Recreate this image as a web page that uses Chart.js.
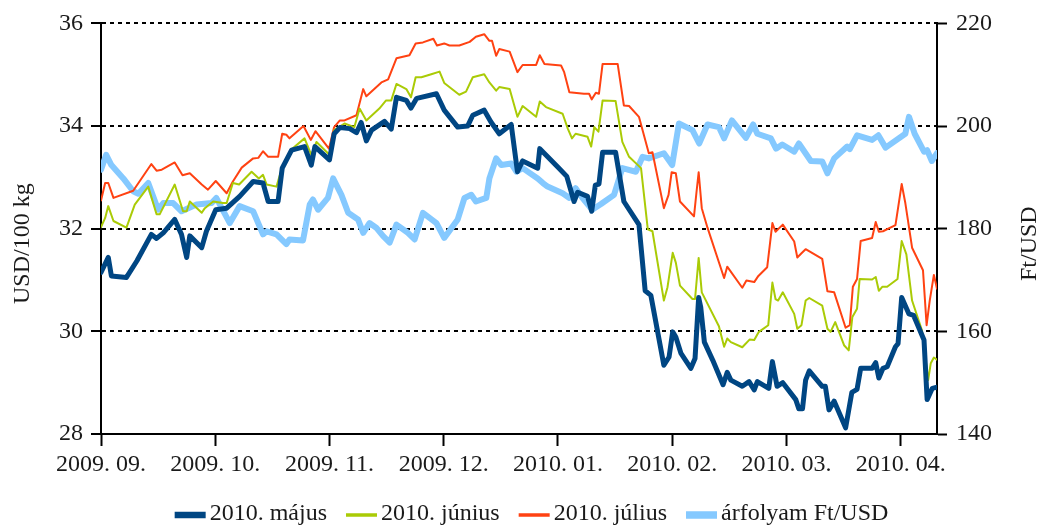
<!DOCTYPE html>
<html>
<head>
<meta charset="utf-8">
<script src="https://cdn.jsdelivr.net/npm/chart.js@4.4.0/dist/chart.umd.min.js"></script>
<style>
  html, body { margin: 0; padding: 0; background: #fff; overflow: hidden; }
  #wrap { width: 1041px; height: 527px; }
</style>
</head>
<body>
<div id="wrap"><canvas id="SugarChart"></canvas></div>
<script>
// month ticks: one every 22 trading days
const monthLabels = ['2009. 09.', '2009. 10.', '2009. 11.', '2009. 12.', '2010. 01.', '2010. 02.', '2010. 03.', '2010. 04.'];
const tickStep = 22;
const lastDay = 161;

// 2010. május (USD/100 kg)
const majusX = [0, 1.4, 2, 4.9, 6.9, 9.7, 10.7, 12, 14.2, 15.5, 16.5, 17.1, 19.4, 20.3, 22.1, 24.2, 26.7, 29.3, 31.2, 32.2,
  34.1, 34.9, 36.7, 39.2, 40.5, 41.2, 44, 44.9, 46, 47.9, 49.2, 50.1, 51.1, 52.1, 54.6, 55.9, 56.9, 58.8, 59.7, 60.8,
  64.6, 66.1, 68.7, 70.6, 71.6, 73.8, 75.1, 76.7, 79, 80.2, 81.2, 84.1, 84.5, 88.2, 89.7, 91.1, 91.8, 93.7, 94.5, 95.2,
  95.9, 96.6, 99.1, 100.7, 103.6, 104.8, 105.9, 108.4, 109.4, 110.1, 110.7, 111.7, 113.6, 114.4, 115.1, 115.5, 116.2, 117.8, 119.8, 120.6,
  121.3, 123.5, 124.8, 125.8, 126.4, 128.6, 129.3, 130.2, 131.3, 133.8, 134.4, 135.1, 135.7, 136.4, 138.9, 139.5, 140.2, 141.2, 143.4, 144.6,
  145.6, 146.3, 148.5, 149.2, 149.8, 150.6, 151.4, 153, 153.5, 154.2, 154.9, 155.6, 156.5, 158.5, 159.1, 160.1, 161];
const majusY = [31.15, 31.44, 31.08, 31.05, 31.37, 31.89, 31.81, 31.92, 32.18, 31.89, 31.44, 31.86, 31.63, 31.95, 32.37, 32.4, 32.63, 32.92, 32.89, 32.53,
  32.53, 33.18, 33.53, 33.6, 33.24, 33.6, 33.34, 33.85, 33.97, 33.95, 33.87, 34.07, 33.71, 33.92, 34.09, 33.94, 34.56, 34.5, 34.35, 34.54,
  34.63, 34.31, 33.98, 34, 34.21, 34.31, 34.08, 33.85, 34.03, 33.11, 33.32, 33.18, 33.56, 33.18, 33.02, 32.53, 32.71, 32.63, 32.34, 32.85,
  32.87, 33.49, 33.49, 32.53, 32.08, 30.79, 30.7, 29.34, 29.5, 29.99, 29.89, 29.57, 29.28, 29.47, 30.66, 30.47, 29.79, 29.44, 28.96, 29.2,
  29.05, 28.93, 29.02, 28.86, 29.02, 28.89, 29.41, 28.93, 29, 28.67, 28.49, 28.49, 29.05, 29.23, 28.93, 28.93, 28.47, 28.64, 28.12, 28.81,
  28.87, 29.28, 29.28, 29.39, 29.09, 29.28, 29.31, 29.7, 29.76, 30.66, 30.5, 30.34, 30.31, 29.83, 28.67, 28.89, 28.91];

// 2010. június (USD/100 kg)
const juniusX = [0, 0.8, 1.4, 2.4, 4.9, 6.5, 9.1, 10.7, 11.3, 14.2, 15.8, 16.5, 17.1, 19.4, 20, 21.6, 23.5, 24.2, 25.4, 26.6,
  29, 30.4, 31.2, 31.9, 33.8, 34.9, 36.7, 39.2, 40.5, 41.5, 44, 44.9, 46.9, 48.8, 49.8, 51.1, 53.6, 54.9, 55.9, 56.9,
  58.8, 59.7, 60.6, 61.7, 63.6, 65.2, 66.1, 69, 70.3, 71.6, 73.8, 74.8, 76.1, 76.7, 78.7, 80.2, 81.2, 83.8, 84.5, 85.7,
  88.9, 89.9, 90.7, 91.4, 93.7, 94.4, 95, 95.8, 96.6, 99.1, 100.4, 101.7, 104, 105.3, 106.2, 108.4, 109.1, 110.1, 110.7, 111.5,
  113.9, 114.4, 115.1, 115.7, 119, 120, 120.6, 121.3, 123.5, 124.9, 125.8, 126.7, 128.5, 129.3, 129.9, 130.4, 131.3, 133.5, 134.1, 134.9,
  135.7, 136.4, 138.9, 139.9, 140.5, 141.4, 143.1, 144, 144.7, 145.6, 146.1, 148.5, 149.2, 149.8, 150.5, 151.4, 153.4, 154.2, 155.1, 156.2,
  158.1, 159.3, 159.8, 160.4, 161];
const juniusY = [32.03, 32.21, 32.44, 32.15, 32.02, 32.47, 32.82, 32.28, 32.28, 32.86, 32.34, 32.34, 32.53, 32.31, 32.4, 32.53, 32.5, 32.5, 32.89, 32.86,
  33.11, 32.98, 33.05, 32.86, 32.82, 33.2, 33.55, 33.76, 33.44, 33.69, 33.44, 33.92, 34.05, 33.98, 34.34, 34.11, 34.34, 34.5, 34.5, 34.82,
  34.72, 34.56, 34.95, 34.95, 35.01, 35.06, 34.84, 34.61, 34.67, 34.95, 35.01, 34.85, 34.69, 34.76, 34.72, 34.18, 34.39, 34.18, 34.48, 34.37,
  34.24, 33.95, 33.76, 33.85, 33.79, 33.6, 33.98, 33.89, 34.5, 34.49, 33.69, 33.4, 33.18, 31.99, 31.95, 30.6, 30.86, 31.53, 31.34, 30.89,
  30.63, 30.63, 31.43, 30.76, 30.1, 29.7, 29.86, 29.79, 29.69, 29.84, 29.83, 29.99, 30.12, 30.95, 30.63, 30.6, 30.76, 30.34, 30.05, 30.12,
  30.6, 30.65, 30.5, 30.05, 29.99, 30.18, 29.73, 29.63, 30.28, 30.44, 31.02, 31.01, 31.06, 30.79, 30.87, 30.87, 31.02, 31.76, 31.5, 30.6,
  30.02, 29.05, 29.38, 29.49, 29.45];

// 2010. július (USD/100 kg)
const juliusX = [0, 0.8, 1.4, 2.4, 6.2, 9.7, 10.7, 11.7, 14.2, 15.7, 17.1, 19.4, 20.6, 22.1, 24.2, 25.4, 27.1, 29.3, 30.3, 31.2,
  32.2, 34.1, 34.9, 35.7, 36.3, 39, 40.4, 41.3, 43.9, 44.9, 46, 46.9, 49.2, 50.5, 51.1, 54, 55.3, 56.9, 59.4, 60.6,
  62, 64, 64.7, 66.1, 67.1, 69, 71, 72.2, 73.8, 74.8, 75.3, 76.1, 76.7, 78.7, 80.2, 81.2, 83.8, 84.5, 85.4, 88.6,
  89.2, 90.2, 93, 94, 94.5, 95.3, 95.9, 96.6, 99.5, 100.7, 101.7, 103.6, 105.5, 106.2, 108.4, 109.3, 109.9, 110.7, 111.5, 114.2,
  114.7, 115.1, 115.7, 116.8, 120, 120.6, 123.5, 124.3, 125.8, 126.6, 128.3, 129.3, 129.9, 131.3, 133.5, 134.1, 134.9, 135.7, 138.9, 139.9,
  141.2, 143.4, 144.2, 144.8, 145.6, 146.3, 148.5, 149.2, 149.8, 150.6, 153, 154.2, 154.9, 156.2, 158.3, 159, 159.6, 160.4, 161];
const juliusY = [32.55, 32.89, 32.89, 32.6, 32.74, 33.26, 33.13, 33.15, 33.29, 33.04, 33.08, 32.86, 32.76, 32.93, 32.69, 32.92, 33.19, 33.37, 33.38, 33.51,
  33.4, 33.4, 33.85, 33.83, 33.76, 34, 33.73, 33.9, 33.56, 33.98, 34.11, 34.11, 34.21, 34.72, 34.58, 34.85, 34.91, 35.32, 35.38, 35.61,
  35.63, 35.7, 35.57, 35.61, 35.57, 35.57, 35.64, 35.74, 35.79, 35.66, 35.66, 35.37, 35.5, 35.45, 35.05, 35.19, 35.19, 35.38, 35.21, 35.18,
  35.05, 34.66, 34.63, 34.63, 34.52, 34.65, 34.63, 35.21, 35.21, 34.4, 34.39, 34.18, 33.47, 33.49, 32.4, 32.66, 33.1, 33.08, 32.53, 32.24,
  32.73, 33.1, 32.4, 32.02, 31.04, 31.26, 30.85, 30.99, 30.96, 31.08, 31.25, 32.11, 31.94, 32.08, 31.75, 31.44, 31.52, 31.6, 31.41, 30.78,
  30.76, 30.07, 30.12, 30.87, 31.02, 31.76, 31.82, 32.13, 31.94, 31.95, 32.07, 32.87, 32.5, 31.63, 31.19, 30.12, 30.6, 31.1, 30.83];

// árfolyam Ft/USD (right axis)
const arfolyamX = [0, 1, 2, 4.3, 6.2, 7.2, 9.1, 11, 12, 13.9, 15.5, 18.4, 21.3, 22.2, 24.8, 26.7, 29.3, 31.2, 31.9, 33.8,
  35.7, 36.3, 38.9, 40.2, 40.8, 41.8, 43.7, 44.7, 46.3, 47.6, 49.5, 50.5, 51.7, 53, 54.3, 55.6, 56.9, 59.1, 60.4, 62,
  64.6, 66.1, 68.7, 70, 71.3, 72.2, 74.2, 74.8, 76.1, 77.1, 79, 80, 81.2, 84.1, 85.1, 86, 88.9, 90.2, 91.4, 92.7,
  94.6, 96.3, 98.8, 100.4, 103, 104.3, 105.5, 108.4, 110, 111.3, 113.9, 115.2, 116.8, 119, 120, 121.5, 124.2, 125.6, 126.4, 129,
  130, 131.2, 133.5, 134.4, 136.7, 138.9, 139.9, 141.2, 143.7, 144.2, 145.6, 148.5, 149.7, 151.1, 154.9, 155.6, 156.7, 158.5, 159.1, 160,
  161];
const arfolyamY = [191.5, 194.4, 192.4, 189.8, 187.3, 186.8, 188.9, 183.7, 185, 185, 183.4, 184.7, 185, 186, 181.1, 184.4, 183.4, 178.9, 179.5, 178.9,
  177, 177.9, 177.7, 184.7, 185.7, 183.7, 186, 189.8, 186.6, 183.1, 181.8, 179.2, 181.1, 180.2, 178.6, 177.3, 180.8, 179.2, 177.9, 183.1,
  181.1, 178.2, 181.8, 186, 186.6, 185.3, 186, 189.8, 193.7, 192.4, 192.7, 191.1, 191.8, 189.8, 188.9, 188.2, 186.9, 186, 187.9, 186,
  183.7, 184.8, 186.6, 191.8, 191.1, 194, 193.7, 194.7, 192.4, 200.5, 199.2, 196.6, 200.3, 199.8, 197.6, 201.1, 197.7, 200.3, 198.5, 197.6,
  195.6, 196.4, 195, 196.6, 193.2, 193.1, 190.8, 193.7, 196, 195.5, 198.2, 197.3, 198.2, 195.8, 198.5, 201.8, 198.5, 195, 195.3, 193.2,
  194.7];

const toPoints = (xs, ys) => xs.map((x, i) => ({ x, y: ys[i] }));

const fontFamily = '"Liberation Serif", "Times New Roman", serif';
const textColor = '#1a1a1a';
const tickFont = { family: fontFamily, size: 24 };

// both axis titles read bottom-to-top, so draw them by hand
const sideTitles = {
  id: 'sideTitles',
  afterDraw(chart) {
    const { ctx, chartArea } = chart;
    const midY = (chartArea.top + chartArea.bottom) / 2 + 15;
    ctx.save();
    ctx.font = `24px ${fontFamily}`;
    ctx.fillStyle = textColor;
    ctx.textAlign = 'center';
    ctx.textBaseline = 'middle';
    [[chartArea.left - 78, 'USD/100 kg'], [chartArea.right + 93, 'Ft/USD']].forEach(([x, text]) => {
      ctx.save();
      ctx.translate(x, midY);
      ctx.rotate(-Math.PI / 2);
      ctx.fillText(text, 0, 0);
      ctx.restore();
    });
    ctx.restore();
  },
};

// Excel-like legend: short swatch hugging its label
const bottomLegend = {
  id: 'bottomLegend',
  afterDraw(chart) {
    const { ctx } = chart;
    const swatchW = 31, swatchGap = 4, itemGap = 19, y = 514;
    ctx.save();
    ctx.font = `24px ${fontFamily}`;
    const items = chart.data.datasets.map((ds) => ({ ds, w: ctx.measureText(ds.label).width }));
    const total = items.reduce((s, it) => s + swatchW + swatchGap + it.w, 0) + itemGap * (items.length - 1);
    let x = chart.width / 2 + 11 - total / 2;
    ctx.textBaseline = 'middle';
    ctx.fillStyle = textColor;
    items.forEach(({ ds, w }) => {
      ctx.strokeStyle = ds.borderColor;
      ctx.lineWidth = ds.borderWidth + 1.5;
      ctx.beginPath();
      ctx.moveTo(x, y + 1);
      ctx.lineTo(x + swatchW, y + 1);
      ctx.stroke();
      x += swatchW + swatchGap;
      ctx.fillText(ds.label, x, y);
      x += w + itemGap;
    });
    ctx.restore();
  },
};

const tickMarks = { drawOnChartArea: false, tickLength: 10, tickWidth: 2, tickColor: '#000', tickBorderDash: [] };

const canvas = document.getElementById('SugarChart');
new Chart(canvas, {
  type: 'line',
  data: {
    datasets: [
      { label: '2010. május', data: toPoints(majusX, majusY), borderColor: '#004683', borderWidth: 5, yAxisID: 'y' },
      { label: '2010. június', data: toPoints(juniusX, juniusY), borderColor: '#AACB06', borderWidth: 2, yAxisID: 'y' },
      { label: '2010. július', data: toPoints(juliusX, juliusY), borderColor: '#FF4212', borderWidth: 2, yAxisID: 'y' },
      { label: 'árfolyam Ft/USD', data: toPoints(arfolyamX, arfolyamY), borderColor: '#85C9FF', borderWidth: 6, yAxisID: 'y2' },
    ],
  },
  options: {
    responsive: true,
    maintainAspectRatio: false,
    animation: false,
    elements: {
      point: { radius: 0 },
      line: { tension: 0, borderJoinStyle: 'round', borderCapStyle: 'round' },
    },
    layout: { padding: { top: 20, left: 0, right: 0, bottom: 41 } },
    plugins: {
      legend: { display: false },
      tooltip: { enabled: false },
    },
    scales: {
      x: {
        type: 'linear',
        min: 0,
        max: lastDay,
        afterBuildTicks: (scale) => {
          scale.ticks = monthLabels.map((_, i) => ({ value: i * tickStep }));
        },
        afterFit: (scale) => { scale.height = 52; },
        ticks: {
          callback: (value) => monthLabels[Math.round(value / tickStep)],
          autoSkip: false,
          maxRotation: 0,
          padding: 4,
          color: textColor,
          font: tickFont,
        },
        grid: { ...tickMarks, tickLength: 12 },
        border: { color: '#000', width: 2 },
      },
      y: {
        position: 'left',
        min: 28,
        max: 36,
        afterFit: (scale) => { scale.width = 101; },
        ticks: { stepSize: 2, padding: 8, color: textColor, font: tickFont },
        grid: { color: '#000', lineWidth: 2, tickLength: 10, tickWidth: 2, tickColor: '#000', tickBorderDash: [] },
        border: { color: '#000', width: 2, dash: [4, 4] },
      },
      y2: {
        position: 'right',
        min: 140,
        max: 220,
        afterFit: (scale) => { scale.width = 104; },
        ticks: { stepSize: 20, padding: 9, color: textColor, font: tickFont },
        grid: tickMarks,
        border: { color: '#000', width: 2 },
      },
    },
  },
  plugins: [sideTitles, bottomLegend],
});
</script>
</body>
</html>
